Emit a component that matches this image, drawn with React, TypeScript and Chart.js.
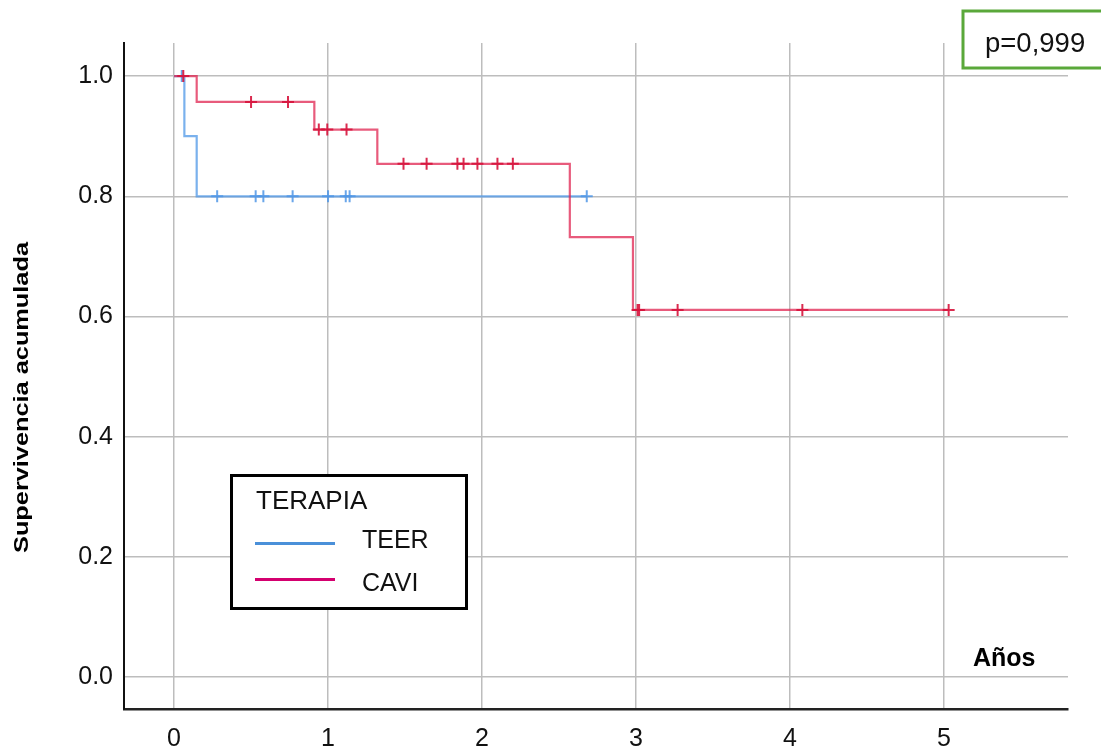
import React, { useEffect, useRef } from "react";
import { Chart, registerables } from "chart.js";

Chart.register(...registerables);

// ---- Data ----
const xTicks = [0, 1, 2, 3, 4, 5];
const yTicks = [0, 0.2, 0.4, 0.6, 0.8, 1.0];

// Kaplan-Meier steps (time in years, survival after the event)
const caviTimes = [0, 0.147, 0.911, 1.32, 2.57, 2.98, 5.03];
const caviSurv = [1.0, 0.957, 0.911, 0.854, 0.732, 0.611, 0.611];
const teerTimes = [0, 0.067, 0.147, 2.68];
const teerSurv = [1.0, 0.9, 0.8, 0.8];

// Censored observations
const caviCensTimes = [0.06, 0.5, 0.74, 0.94, 0.995, 1.12, 1.49, 1.64, 1.84, 1.88, 1.97, 2.1, 2.2, 3.01, 3.02, 3.27, 4.08, 5.03];
const caviCensSurv = [1.0, 0.957, 0.957, 0.911, 0.911, 0.911, 0.854, 0.854, 0.854, 0.854, 0.854, 0.854, 0.854, 0.611, 0.611, 0.611, 0.611, 0.611];
const teerCensTimes = [0.05, 0.28, 0.53, 0.58, 0.77, 1.0, 1.115, 1.14, 2.68];
const teerCensSurv = [1.0, 0.8, 0.8, 0.8, 0.8, 0.8, 0.8, 0.8, 0.8];

const seriesNames = ["TEER", "CAVI"];
const legendTitle = "TERAPIA";
const pValueText = "p=0,999";
const xTitle = "Años";
const yTitle = "Supervivencia acumulada";

const FONT = "'Liberation Sans', Arial, sans-serif";

const zip = (xs: number[], ys: number[]) => xs.map((x, i) => ({ x, y: ys[i] }));

const annotations = {
  id: "kmAnnotations",
  afterDraw(chart: any) {
    const ctx = chart.ctx as CanvasRenderingContext2D;
    ctx.save();
    // Y-axis title (rotated, stretched along the axis)
    ctx.font = `bold 21px ${FONT}`;
    const w = ctx.measureText(yTitle).width;
    ctx.translate(28, 397.5);
    ctx.rotate(-Math.PI / 2);
    ctx.scale(311 / w, 1);
    ctx.fillStyle = "#000";
    ctx.textAlign = "center";
    ctx.textBaseline = "alphabetic";
    ctx.fillText(yTitle, 0, 0);
    ctx.restore();

    ctx.save();
    // X title inside the plot
    ctx.font = `bold 25px ${FONT}`;
    ctx.fillStyle = "#000";
    ctx.textAlign = "left";
    ctx.textBaseline = "alphabetic";
    ctx.fillText(xTitle, 973, 666);

    // Legend box
    ctx.fillStyle = "#fff";
    ctx.fillRect(231.5, 475.5, 235, 133);
    ctx.strokeStyle = "#000";
    ctx.lineWidth = 3;
    ctx.strokeRect(231.5, 475.5, 235, 133);
    ctx.fillStyle = "#111";
    ctx.font = `26px ${FONT}`;
    ctx.fillText(legendTitle, 256, 509);
    ctx.font = `25px ${FONT}`;
    ctx.fillText(seriesNames[0], 362, 548);
    ctx.fillText(seriesNames[1], 362, 591);
    ctx.lineWidth = 3;
    ctx.strokeStyle = "#4a90d9";
    ctx.beginPath();
    ctx.moveTo(255, 543.5);
    ctx.lineTo(335, 543.5);
    ctx.stroke();
    ctx.strokeStyle = "#d4006f";
    ctx.beginPath();
    ctx.moveTo(255, 579.5);
    ctx.lineTo(335, 579.5);
    ctx.stroke();

    // p-value box
    ctx.fillStyle = "#fff";
    ctx.fillRect(963, 11, 140, 57);
    ctx.strokeStyle = "#5aa83a";
    ctx.lineWidth = 3;
    ctx.strokeRect(963, 11, 140, 57);
    ctx.fillStyle = "#111";
    ctx.font = `27.5px ${FONT}`;
    ctx.fillText(pValueText, 985, 52);
    ctx.restore();
  },
};

export default function App() {
  const ref = useRef<HTMLCanvasElement | null>(null);

  useEffect(() => {
    if (!ref.current) return;
    const chart = new Chart(ref.current, {
      type: "scatter",
      data: {
        datasets: [
          {
            label: "CAVI censored",
            data: zip(caviCensTimes, caviCensSurv),
            pointStyle: "cross",
            pointRadius: 6,
            borderColor: "rgba(214,20,60,0.9)",
            backgroundColor: "rgba(214,20,60,0.9)",
            borderWidth: 2,
            showLine: false,
          },
          {
            label: "CAVI",
            data: zip(caviTimes, caviSurv),
            showLine: true,
            stepped: "before",
            borderColor: "rgba(224,36,80,0.75)",
            borderWidth: 2.2,
            pointRadius: 0,
            fill: false,
          },
          {
            label: "TEER censored",
            data: zip(teerCensTimes, teerCensSurv),
            pointStyle: "cross",
            pointRadius: 6,
            borderColor: "rgba(80,150,230,0.85)",
            backgroundColor: "rgba(80,150,230,0.85)",
            borderWidth: 2,
            showLine: false,
          },
          {
            label: "TEER",
            data: zip(teerTimes, teerSurv),
            showLine: true,
            stepped: "before",
            borderColor: "rgba(85,155,232,0.78)",
            borderWidth: 2.2,
            pointRadius: 0,
            fill: false,
          },
        ] as any,
      },
      options: {
        animation: false,
        responsive: false,
        devicePixelRatio: 1,
        layout: { padding: { top: 43, right: 33, left: 0, bottom: 0 } },
        plugins: {
          legend: { display: false },
          tooltip: { enabled: false },
          title: { display: false },
        },
        scales: {
          x: {
            type: "linear",
            min: -0.325,
            max: 5.805,
            afterBuildTicks: (scale: any) => {
              scale.ticks = xTicks.map((v) => ({ value: v }));
            },
            afterFit: (scale: any) => {
              scale.height = 42;
            },
            grid: { color: "#bdbdbd", lineWidth: 1.5, drawTicks: false },
            border: { display: true, color: "#222", width: 2.5 },
            ticks: {
              padding: 15,
              color: "#111",
              font: { family: FONT, size: 25 },
              callback: (v: any) => String(v),
            },
          },
          y: {
            type: "linear",
            min: -0.053,
            max: 1.055,
            afterBuildTicks: (scale: any) => {
              scale.ticks = yTicks.map((v) => ({ value: v }));
            },
            afterFit: (scale: any) => {
              scale.width = 124;
            },
            grid: { color: "#bdbdbd", lineWidth: 1.5, drawTicks: false },
            border: { display: true, color: "#111", width: 2 },
            ticks: {
              padding: 11,
              color: "#111",
              font: { family: FONT, size: 25 },
              callback: (v: any) => Number(v).toFixed(1),
            },
          },
        },
      } as any,
      plugins: [annotations],
    });
    return () => chart.destroy();
  }, []);

  return (
    <div style={{ position: "absolute", left: 0, top: 0, width: 1101, height: 751, background: "#fff" }}>
      <canvas ref={ref} width={1101} height={751} />
    </div>
  );
}
